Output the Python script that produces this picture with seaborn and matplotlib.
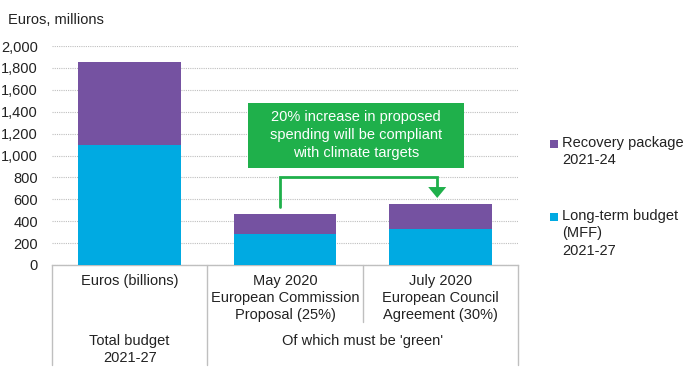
import matplotlib
matplotlib.use("Agg")
import matplotlib.pyplot as plt
import matplotlib.patches as mpatches
import matplotlib.transforms as mtransforms
import seaborn as sns

categories = ["Euros (billions)", "May 2020\nEuropean Commission\nProposal (25%)",
              "July 2020\nEuropean Council\nAgreement (30%)"]
mff = [1100, 280, 330]
recovery = [750, 183, 225]
totals = [m + r for m, r in zip(mff, recovery)]
yticks = list(range(0, 2001, 200))
groups = ["Total budget\n2021-27", "Of which must be 'green'"]
legend_labels = ["Recovery package\n2021-24", "Long-term budget\n(MFF)\n2021-27"]
note = "20% increase in proposed\nspending will be compliant\nwith climate targets"

purple = "#7552A1"
blue = "#00AAE2"
green = "#1FB04B"
grey = "#BFBFBF"

sns.set_theme(style="white")
plt.rcParams["font.family"] = ["Liberation Sans", "DejaVu Sans"]

fig = plt.figure(figsize=(6.84, 3.83), dpi=100)
ax = fig.add_axes([52 / 684, 1 - 265 / 383, (518 - 52) / 684, (265 - 46) / 383])

sns.barplot(x=categories, y=totals, color=purple, width=0.66, ax=ax, saturation=1,
            linewidth=0, zorder=3)
sns.barplot(x=categories, y=mff, color=blue, width=0.66, ax=ax, saturation=1,
            linewidth=0, zorder=3)

ax.set_xlim(-0.5, 2.5)
ax.set_ylim(0, 2000)
ax.set_yticks(yticks)
ax.set_yticklabels([f"{v:,}" for v in yticks], fontsize=10.5, color="#222222")
ax.tick_params(axis="y", length=0, pad=10)
ax.set_xticks([])
ax.set_xlabel("")
ax.set_ylabel("")
ax.yaxis.grid(True, color=grey, linestyle=(0, (1, 1)), linewidth=0.8, zorder=0)
for s in ["left", "right", "top"]:
    ax.spines[s].set_visible(False)
ax.spines["bottom"].set_color(grey)
ax.spines["bottom"].set_linewidth(1)

# table below the axis
trans = mtransforms.blended_transform_factory(ax.transData, ax.transAxes)
for x, ybot in [(-0.5, -0.457), (0.5, -0.457), (1.5, -0.26), (2.5, -0.457)]:
    ax.plot([x, x], [0, ybot], color=grey, lw=1, transform=trans, clip_on=False)
for i, lab in enumerate(categories):
    ax.text(i, -0.04, lab, transform=trans, ha="center", va="top",
            fontsize=10.5, color="#222222", linespacing=1.3)
ax.text(0, -0.315, groups[0], transform=trans, ha="center", va="top",
        fontsize=10.5, color="#222222", linespacing=1.3)
ax.text(1.5, -0.315, groups[1], transform=trans, ha="center", va="top",
        fontsize=10.5, color="#222222", linespacing=1.3)

# green callout
ax.add_patch(mpatches.Rectangle((0.765, 886), 2.15 - 0.765, 1479 - 886,
                                facecolor=green, edgecolor="none", zorder=4))
ax.text(1.457, 1185, note, ha="center", va="center", color="white",
        fontsize=10.5, linespacing=1.35, zorder=5)
ax.plot([0.965, 0.965, 1.98, 1.98], [530, 804, 804, 700], color=green,
        lw=2, zorder=4, solid_joinstyle="miter")
ax.add_patch(mpatches.Polygon([(1.922, 712), (2.038, 712), (1.98, 612)],
                              closed=True, facecolor=green, edgecolor="none", zorder=4))

fig.text(8 / 684, 1 - 20 / 383, "Euros, millions", fontsize=10.5, va="center",
         color="#222222")

# legend
for col, lab, ytop in [(purple, legend_labels[0], 136), (blue, legend_labels[1], 209)]:
    fig.add_artist(mpatches.Rectangle((550 / 684, 1 - (ytop + 12) / 383), 8 / 684, 8 / 383,
                                      transform=fig.transFigure, facecolor=col,
                                      edgecolor="none"))
    fig.text(562 / 684, 1 - ytop / 383, lab, fontsize=10.5, va="top",
             color="#222222", linespacing=1.3)

fig.savefig("out.png", dpi=100)
